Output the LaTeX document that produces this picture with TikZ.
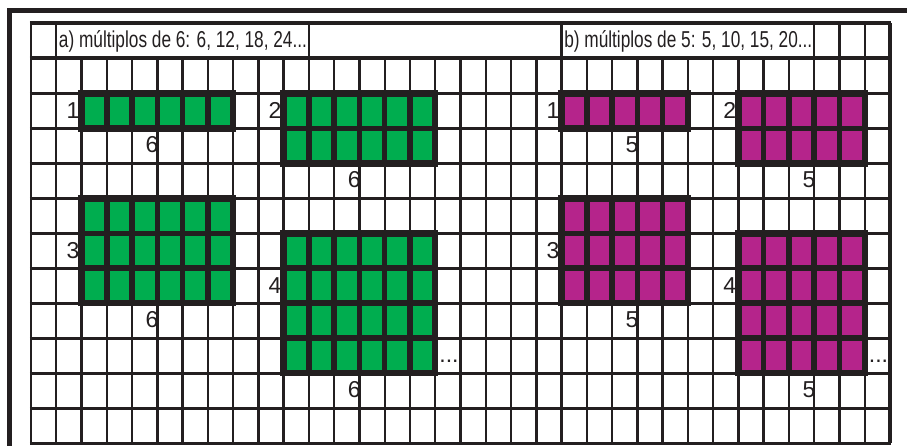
\documentclass[tikz,border=0pt]{standalone}
\usepackage{fontspec}
\setmainfont{Liberation Sans}
\definecolor{ink}{HTML}{231F20}
\definecolor{gr}{HTML}{00AD4F}
\definecolor{pu}{HTML}{B5248B}
\newcommand\CW{25.265}
\newcommand\RH{34.96}
\newcommand\XO{31}
\newcommand\YO{23.5}
\newcommand\cellblock[5]{%
  \fill[#5] ({\XO+#1*\CW},{\YO+#2*\RH}) rectangle ({\XO+(#1+#3)*\CW},{\YO+(#2+#4)*\RH});
  \foreach \i in {0,...,#3}
    \draw[blkline] ({\XO+(#1+\i)*\CW},{\YO+#2*\RH}) -- ({\XO+(#1+\i)*\CW},{\YO+(#2+#4)*\RH});
  \foreach \j in {0,...,#4}
    \draw[blkline] ({\XO+#1*\CW},{\YO+(#2+\j)*\RH}) -- ({\XO+(#1+#3)*\CW},{\YO+(#2+\j)*\RH});
  \draw[blkframe] ({\XO+#1*\CW},{\YO+#2*\RH}) rectangle ({\XO+(#1+#3)*\CW},{\YO+(#2+#4)*\RH});
}
\begin{document}
\begin{tikzpicture}[x=1pt,y=-1pt,
  hline/.style={draw=ink,line width=3pt},
  vline/.style={draw=ink,line width=2.4pt},
  blkline/.style={draw=ink,line width=5.5pt},
  blkframe/.style={draw=ink,line width=6.5pt,line join=miter},
  digit/.style={font=\fontsize{23}{23}\selectfont,text=ink,inner sep=0pt},
  head/.style={font=\fontsize{23}{23}\selectfont,text=ink,inner sep=0pt,anchor=base west}]
\useasboundingbox (0,0) rectangle (907,446);
\fill[white] (0,0) rectangle (907,446);
% outer frame
\draw[ink,line width=5pt] (9.5,450) -- (9.5,10.5) -- (910,10.5);
% grid horizontal lines
\foreach \r in {0,...,12}
  \draw[hline] ({\XO-1.2},{\YO+\r*\RH}) -- ({\XO+34*\CW+1.2},{\YO+\r*\RH});
\draw[ink,line width=4pt] ({\XO-1.2},{\YO}) -- ({\XO+34*\CW+1.2},{\YO});
\draw[ink,line width=4pt] ({\XO-1.2},{\YO+\RH}) -- ({\XO+34*\CW+1.2},{\YO+\RH});
% header row verticals
\foreach \k in {0,1,11,21,31,32,33,34}
  \draw[vline] ({\XO+\k*\CW},{\YO}) -- ({\XO+\k*\CW},{\YO+\RH});
% other verticals
\foreach \k in {0,...,34}
  \draw[vline] ({\XO+\k*\CW},{\YO+\RH}) -- ({\XO+\k*\CW},{\YO+12*\RH});
\draw[ink,line width=3.5pt] ({\XO+34*\CW},{\YO}) -- ({\XO+34*\CW},{\YO+12*\RH});
% headers
\node[head] (ha) at ({\XO+\CW+2.5},48) {\scalebox{0.75}[1]{a) múltiplos de 6: 6, 12, 18, 24...}};
\node[head] (hb) at ({\XO+21*\CW+2.5},48) {\scalebox{0.75}[1]{b) múltiplos de 5: 5, 10, 15, 20...}};
% green blocks
\cellblock{2}{2}{6}{1}{gr}
\cellblock{10}{2}{6}{2}{gr}
\cellblock{2}{5}{6}{3}{gr}
\cellblock{10}{6}{6}{4}{gr}
% purple blocks
\cellblock{21}{2}{5}{1}{pu}
\cellblock{28}{2}{5}{2}{pu}
\cellblock{21}{5}{5}{3}{pu}
\cellblock{28}{6}{5}{4}{pu}
% green labels
\node[digit,anchor=base east] (g1n) at ({\XO+2*\CW-2},{\YO+2.5*\RH+7.5}) {1};
\node[digit,anchor=base] (g1w) at ({\XO+2*\CW+70.5},{\YO+3.5*\RH+6.5}) {6};
\node[digit,anchor=base east] (g2n) at ({\XO+10*\CW-2},{\YO+2.5*\RH+7.5}) {2};
\node[digit,anchor=base] (g2w) at ({\XO+10*\CW+70.5},{\YO+4.5*\RH+6.5}) {6};
\node[digit,anchor=base east] (g3n) at ({\XO+2*\CW-2},{\YO+6.5*\RH+7.5}) {3};
\node[digit,anchor=base] (g3w) at ({\XO+2*\CW+70.5},{\YO+8.5*\RH+6.5}) {6};
\node[digit,anchor=base east] (g4n) at ({\XO+10*\CW-2},{\YO+7.5*\RH+7.5}) {4};
\node[digit,anchor=base] (g4w) at ({\XO+10*\CW+70.5},{\YO+10.5*\RH+6.5}) {6};
\node[digit,anchor=base west] (g4d) at ({\XO+16*\CW+4},{\YO+9.5*\RH+7}) {...};
% purple labels
\node[digit,anchor=base east] (p1n) at ({\XO+21*\CW-2},{\YO+2.5*\RH+7.5}) {1};
\node[digit,anchor=base] (p1w) at ({\XO+21*\CW+70.5},{\YO+3.5*\RH+6.5}) {5};
\node[digit,anchor=base east] (p2n) at ({\XO+28*\CW-2},{\YO+2.5*\RH+7.5}) {2};
\node[digit,anchor=base] (p2w) at ({\XO+28*\CW+70.5},{\YO+4.5*\RH+6.5}) {5};
\node[digit,anchor=base east] (p3n) at ({\XO+21*\CW-2},{\YO+6.5*\RH+7.5}) {3};
\node[digit,anchor=base] (p3w) at ({\XO+21*\CW+70.5},{\YO+8.5*\RH+6.5}) {5};
\node[digit,anchor=base east] (p4n) at ({\XO+28*\CW-2},{\YO+7.5*\RH+7.5}) {4};
\node[digit,anchor=base] (p4w) at ({\XO+28*\CW+70.5},{\YO+10.5*\RH+6.5}) {5};
\node[digit,anchor=base west] (p4d) at ({\XO+33*\CW+4},{\YO+9.5*\RH+7}) {...};
\end{tikzpicture}
\end{document}
